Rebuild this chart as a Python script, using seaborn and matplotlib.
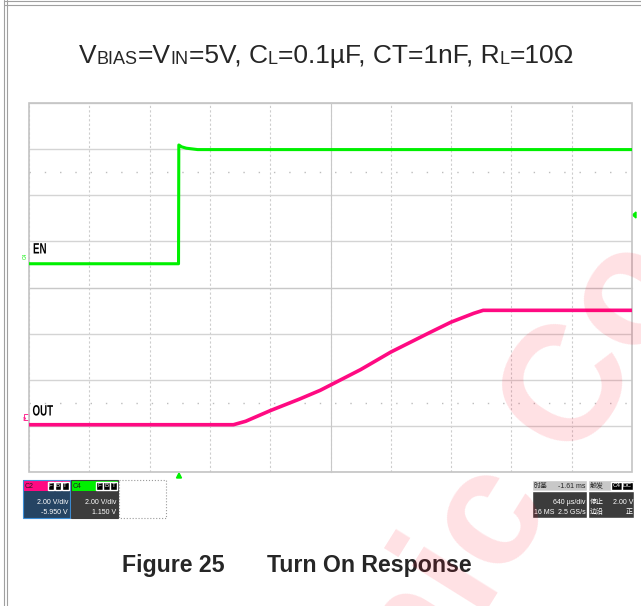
import seaborn as sns
import matplotlib.pyplot as plt
from matplotlib.patches import Rectangle, Polygon, PathPatch
from matplotlib.textpath import TextPath
from matplotlib.font_manager import FontProperties
from matplotlib.transforms import Affine2D
from matplotlib.ticker import MultipleLocator

sns.set_style('white')
plt.rcParams['font.family'] = ['Liberation Sans', 'DejaVu Sans']

# traces (time in ms, level in V)
en_time_ms = [-1.59, -0.003, 0.0, 0.03, 0.08, 0.20, 4.81]
en_volts = [0.0, 0.0, 5.15, 5.07, 5.01, 4.95, 4.95]

out_time_ms = [-1.59, 0.58, 0.71, 0.97, 1.28, 1.50, 1.93, 2.25, 2.67, 2.89, 3.13, 3.23, 4.81]
out_volts = [0.0, 0.0, 0.15, 0.61, 1.11, 1.49, 2.39, 3.15, 4.01, 4.45, 4.83, 4.96, 4.96]

# scope settings
VOLTS_PER_DIV = 2.0
MS_PER_DIV = 0.64
TIME_CENTER_MS = 1.61
OUT_CENTER_V = 5.95
EN_CENTER_V = -1.03

PINK = '#ff0a82'
GREEN = '#00f000'

W, H = 641, 606
fig = plt.figure(figsize=(W / 100, H / 100), dpi=100)

# background axes in pixel units for the page decorations
bg = fig.add_axes([0, 0, 1, 1])
bg.set_xlim(0, W)
bg.set_ylim(H, 0)
bg.axis('off')

# page border (double lines left and top)
for x in (4, 6.5):
    bg.plot([x, x], [0, H], color='#a0a0a0', lw=0.8)
for y in (1.2, 4.5):
    bg.plot([4, W], [y, y], color='#a0a0a0', lw=0.8)

# title with small subscripts, chained piece by piece
pieces = [('V', 19), ('BIAS', 13), ('=V', 19), ('IN', 13), ('=5V, C', 19), ('L', 13),
          ('=0.1µF, CT=1nF, R', 19), ('L', 13), ('=10Ω', 19)]
first = bg.text(75, 63, pieces[0][0], fontsize=pieces[0][1], ha='left', va='baseline')
prev = first
for s, fs in pieces[1:]:
    prev = bg.annotate(s, xy=(1, 0), xycoords=prev, fontsize=fs, ha='left', va='bottom')
fig.canvas.draw()
r = fig.canvas.get_renderer()
w = prev.get_window_extent(r).x1 - first.get_window_extent(r).x0
first.set_x(326.5 - w / 2)

# caption
bg.text(121.7, 572, 'Figure 25', fontsize=16.7, weight='bold', va='baseline')
bg.text(266.7, 572, 'Turn On Response', fontsize=16.7, weight='bold', va='baseline')

# graticule
rect = [29 / W, 1 - 472 / H, 603 / W, 369 / H]
grat = fig.add_axes(rect, zorder=1)
grat.patch.set_visible(False)
grat.set_xlim(-5, 5)
grat.set_ylim(-4, 4)
for axis in (grat.xaxis, grat.yaxis):
    axis.set_major_locator(MultipleLocator(1))
    axis.set_minor_locator(MultipleLocator(0.2))
grat.tick_params(which='both', direction='inout', length=3.5, width=0.7, color='#a8a8a8',
                 labelbottom=False, labelleft=False)
grat.xaxis.grid(True, which='major', color='#cdcdcd', ls=(0, (2, 2)), lw=0.8)
grat.yaxis.grid(True, which='major', color='#d4d4d4', ls='-', lw=1.0)
for s in ('left', 'bottom'):
    grat.spines[s].set_position(('data', 0))
    grat.spines[s].set_color('#c8c8c8')
for s in ('top', 'right'):
    grat.spines[s].set_visible(False)
grat.add_patch(Rectangle((0, 0), 1, 1, transform=grat.transAxes, fill=False,
                         ec='#c4c4c4', lw=1.2, clip_on=False))
for y in (2.5, -2.5):
    grat.axhline(y, color='#bdbdbd', ls=(0, (1, 10)), lw=1)

# traces
ax_out = fig.add_axes(rect, zorder=2)
sns.lineplot(x=out_time_ms, y=out_volts, ax=ax_out, color=PINK, lw=2.6, estimator=None)
ax_out.set_xlim(TIME_CENTER_MS - 5 * MS_PER_DIV, TIME_CENTER_MS + 5 * MS_PER_DIV)
ax_out.set_ylim(OUT_CENTER_V - 4 * VOLTS_PER_DIV, OUT_CENTER_V + 4 * VOLTS_PER_DIV)
ax_out.set_axis_off()

ax_en = fig.add_axes(rect, zorder=3)
sns.lineplot(x=en_time_ms, y=en_volts, ax=ax_en, color=GREEN, lw=2.2, estimator=None)
ax_en.set_xlim(TIME_CENTER_MS - 5 * MS_PER_DIV, TIME_CENTER_MS + 5 * MS_PER_DIV)
ax_en.set_ylim(EN_CENTER_V - 4 * VOLTS_PER_DIV, EN_CENTER_V + 4 * VOLTS_PER_DIV)
ax_en.set_axis_off()

# trace labels (condensed, like the scope's label font)
label_font = FontProperties(family='Liberation Sans', weight='bold')

def narrow_label(s, x, y):
    path = TextPath((0, 0), s, size=15, prop=label_font)
    tr = Affine2D().scale(0.65, -1).translate(x, y) + bg.transData
    bg.add_patch(PathPatch(path, transform=tr, fc='black', ec='none'))

narrow_label('EN', 33, 253.5)
narrow_label('OUT', 32.5, 415.5)

small = ['Liberation Sans', 'Noto Sans CJK SC', 'DejaVu Sans']
fs = 5
bg.text(25.5, 255.5, 'C4', fontsize=3.5, color=GREEN, rotation=90, ha='center', va='center')
bg.add_patch(Rectangle((23.5, 414), 5, 6, fill=False, ec=PINK, lw=0.6))
bg.text(26, 417, 'C2', fontsize=3, color=PINK, rotation=90, ha='center', va='center')
bg.add_patch(Polygon([(632.5, 215), (636, 212), (636, 218)], color=GREEN))
bg.add_patch(Polygon([(179, 473), (176.5, 478), (181.5, 478)], color=GREEN))

# channel boxes
def chan_box(x0, head, body, edge, name, lines):
    bg.add_patch(Rectangle((x0, 480), 47, 11, fc=head, ec='none'))
    bg.add_patch(Rectangle((x0, 491), 47, 27, fc=body, ec='none'))
    bg.add_patch(Rectangle((x0, 480), 47, 38, fill=False, ec=edge, lw=0.8))
    bg.text(x0 + 2, 486, name, fontsize=fs, family=small, va='center', color='#222222')
    for i, c in enumerate('FBT'):
        bg.add_patch(Rectangle((x0 + 25 + i * 7.2, 481.5), 6.6, 8, fc='black'))
        bg.text(x0 + 28.3 + i * 7.2, 485.7, c, fontsize=4.5, family=small,
                color='white', ha='center', va='center')
    for i, s in enumerate(lines):
        bg.text(x0 + 45.5, 502.5 + i * 10, s, fontsize=fs, family=small,
                color='white', ha='right', va='center')

chan_box(22.5, PINK, '#254463', '#3d8fd8', 'C2', ['2.00 V/div', '-5.950 V'])
chan_box(71, GREEN, '#3c3c3c', '#3c3c3c', 'C4', ['2.00 V/div', '1.150 V'])
bg.add_patch(Rectangle((118.5, 480), 47.5, 38, fill=False, ec='#9a9a9a', lw=0.8, ls=':'))

# timebase box
bg.add_patch(Rectangle((532, 480), 55, 11, fc='#c8c8c8'))
bg.add_patch(Rectangle((532, 491), 55, 27, fc='#3c3c3c'))
bg.text(534, 486, '时基', fontsize=fs, family=small, va='center')
bg.text(585.5, 486, '-1.61 ms', fontsize=fs, family=small, va='center', ha='right')
bg.text(585.5, 502.5, '640 µs/div', fontsize=fs, family=small, va='center', ha='right', color='white')
bg.text(533.5, 512.5, '16 MS', fontsize=fs, family=small, va='center', color='white')
bg.text(585.5, 512.5, '2.5 GS/s', fontsize=fs, family=small, va='center', ha='right', color='white')

# trigger box
bg.add_patch(Rectangle((588, 480), 46, 11, fc='#c8c8c8'))
bg.add_patch(Rectangle((588, 491), 46, 27, fc='#3c3c3c'))
bg.text(590, 486, '触发', fontsize=fs, family=small, va='center')
for x, s in ((611, 'C4'), (622, 'DC')):
    bg.add_patch(Rectangle((x, 481.5), 10.5, 8, fc='black'))
    bg.text(x + 5.2, 485.7, s, fontsize=4.5, family=small, color='white', ha='center', va='center')
bg.text(590, 502.5, '停止', fontsize=fs, family=small, va='center', color='white')
bg.text(633, 502.5, '2.00 V', fontsize=fs, family=small, va='center', ha='right', color='white')
bg.text(590, 512.5, '边沿', fontsize=fs, family=small, va='center', color='white')
bg.text(633, 512.5, '正', fontsize=fs, family=small, va='center', ha='right', color='white')

# watermark
fig.text(695 / W, 1 - 278 / H, 'ronic Co', fontsize=119, weight='bold', color='#ff0020',
         alpha=0.12, rotation=58, rotation_mode='anchor', ha='right', va='baseline', zorder=10)

fig.savefig('out.png', dpi=100)
